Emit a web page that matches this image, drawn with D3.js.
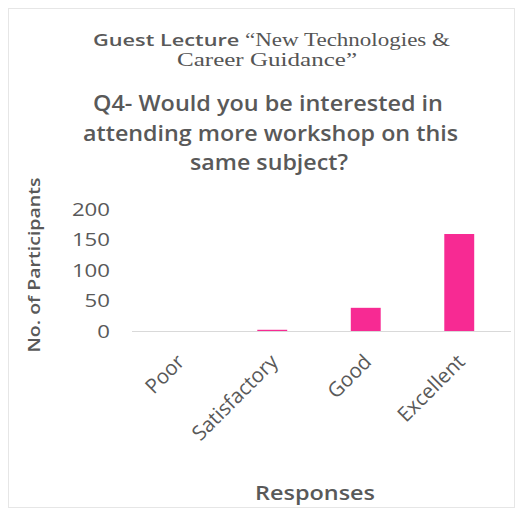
<!DOCTYPE html>
<html><head><meta charset="utf-8">
<script src="https://cdn.jsdelivr.net/npm/d3@7"></script>
<style>
body{margin:0;background:#fff;}
text{font-family:"Open Sans",sans-serif;fill:#595959;}
</style></head>
<body><svg id="c" width="522" height="514"></svg>
<script>
const categories = ["Poor","Satisfactory","Good","Excellent"];
const values = [0, 2, 38, 159];
const yTicks = [0, 50, 100, 150, 200];
const titleSans = "Guest Lecture ";
const titleSerif1 = "\u201CNew Technologies &";
const titleSerif2 = "Career Guidance\u201D";
const questionLines = ["Q4- Would you be interested in","attending more workshop on this","same subject?"];
const yTitle = "No. of Participants";
const xTitle = "Responses";

const svg = d3.select("#c");
svg.append("rect").attr("x",8.5).attr("y",8.5).attr("width",506).attr("height",499)
  .attr("fill","#fff").attr("stroke","#e6e6e6");

const x = d3.scaleBand().domain(categories).range([132,506]).paddingInner(0.68).paddingOuter(0.34);
const y = d3.scaleLinear().domain([0,200]).range([331,209]);

// title
const t1 = svg.append("text").attr("x",271.5).attr("y",46).attr("text-anchor","middle")
  .attr("textLength",357).attr("lengthAdjust","spacingAndGlyphs");
t1.append("tspan").text(titleSans).style("font-size","17px").style("font-weight","600");
t1.append("tspan").text(titleSerif1).style("font-family","'Liberation Serif',serif").style("font-size","18px").style("fill","#555");
svg.append("text").attr("x",267).attr("y",66).attr("text-anchor","middle")
  .attr("textLength",180).attr("lengthAdjust","spacingAndGlyphs")
  .style("font-family","'Liberation Serif',serif").style("font-size","18px").style("fill","#555")
  .text(titleSerif2);
const qWidths = [350, 375, 158];
const qCenters = [268, 270.5, 269];
questionLines.forEach((l,i)=>{
  svg.append("text").attr("x",qCenters[i]).attr("y",111+i*29.5).attr("text-anchor","middle")
    .attr("textLength",qWidths[i]).attr("lengthAdjust","spacingAndGlyphs")
    .style("font-size","21px").style("font-weight","600").text(l);
});

// y axis
const ya = svg.append("g").attr("transform","translate(110,0)")
  .call(d3.axisLeft(y).tickValues(yTicks).tickSize(0).tickPadding(0));
ya.select(".domain").remove();
ya.selectAll("text").style("font-size","19px").style("font-family","'Open Sans',sans-serif").attr("fill","#595959")
  .attr("textLength",d=>String(d).length*12.7).attr("lengthAdjust","spacingAndGlyphs");

// baseline
svg.append("line").attr("x1",132).attr("x2",511).attr("y1",y(0)+0.5).attr("y2",y(0)+0.5).attr("stroke","#d9d9d9");

// bars
svg.selectAll(".bar").data(values).enter().append("rect")
  .attr("x",(d,i)=>x(categories[i])).attr("width",x.bandwidth())
  .attr("y",d=>y(d)).attr("height",d=>y(0)-y(d)).attr("fill","#f72a93");

// x axis labels
const xa = svg.append("g").attr("transform",`translate(0,${y(0)})`)
  .call(d3.axisBottom(x).tickSize(0).tickPadding(0));
xa.select(".domain").remove();
xa.selectAll("text").style("font-size","20.5px").style("font-family","'Open Sans',sans-serif").attr("fill","#595959")
  .attr("text-anchor","end").attr("dy","0")
  .attr("transform","translate(7,32) rotate(-45)");

// axis titles
svg.append("text").attr("transform","translate(40,265) rotate(-90)").attr("text-anchor","middle")
  .attr("textLength",175).attr("lengthAdjust","spacingAndGlyphs")
  .style("font-size","17px").style("font-weight","600").text(yTitle);
svg.append("text").attr("x",315).attr("y",500).attr("text-anchor","middle")
  .attr("textLength",120).attr("lengthAdjust","spacingAndGlyphs")
  .style("font-size","20px").style("font-weight","600").text(xTitle);
</script></body></html>
